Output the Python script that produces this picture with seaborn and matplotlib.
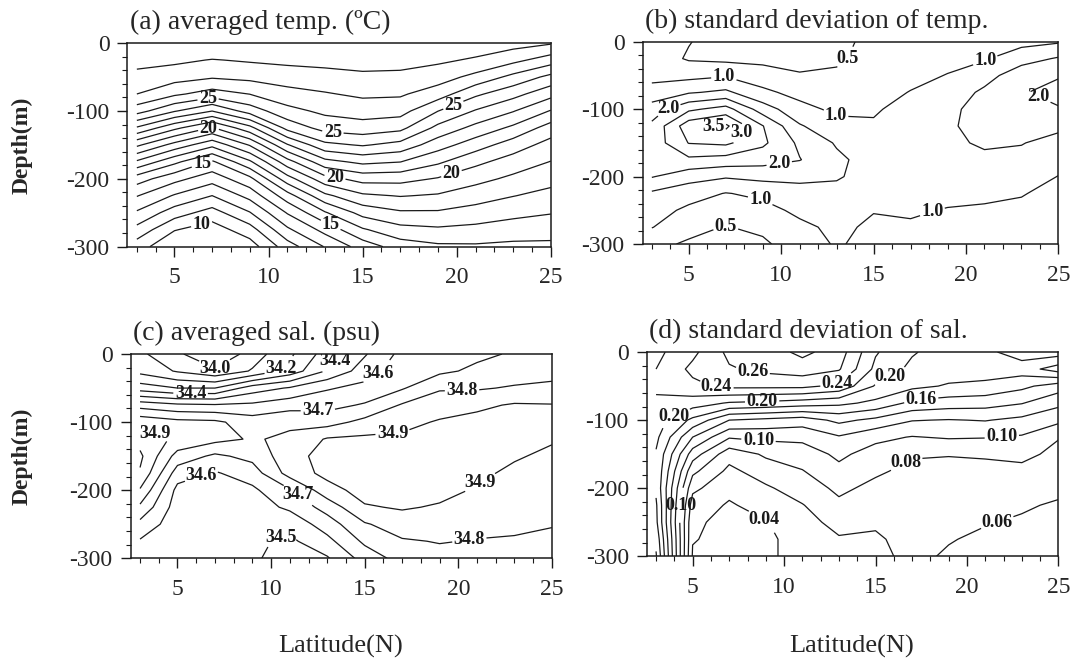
import numpy as np
import matplotlib
matplotlib.use("Agg")
import matplotlib.pyplot as plt
import seaborn as sns

# grid: latitude (N) and depth (m)
lats = [3, 5, 7, 9, 11, 13, 15, 17, 19, 21, 23, 25]
depths = [0, -25, -50, -75, -100, -125, -150, -175, -200, -225, -250, -275, -300]

# (a) averaged temperature, one column per latitude (top to bottom)
temp_mean = [
    [29.0, 28.36, 27.69, 27.0, 25.42, 22.87, 20.21, 17.83, 15.47, 14.05, 12.86, 11.67, 10.48],
    [29.0, 28.22, 27.4, 26.19, 24.09, 21.25, 18.65, 16.25, 14.32, 12.9, 11.48, 10.06, 9.1],
    [29.0, 27.95, 27.11, 25.56, 23.02, 19.9, 17.29, 14.83, 13.41, 11.99, 10.57, 9.5, 8.7],
    [29.0, 28.11, 27.27, 26.02, 24.44, 21.67, 19.09, 16.82, 14.72, 13.33, 11.94, 10.56, 9.5],
    [29.0, 28.24, 27.48, 26.65, 25.69, 24.33, 21.92, 19.6, 17.58, 15.56, 14.08, 12.81, 11.53],
    [29.0, 28.32, 27.63, 26.92, 26.22, 25.37, 23.75, 21.67, 19.63, 17.76, 15.9, 14.34, 13.06],
    [29.0, 28.4, 27.8, 27.18, 26.45, 25.57, 24.1, 22.24, 20.37, 18.82, 17.35, 15.88, 14.44],
    [29.0, 28.38, 27.75, 27.13, 26.38, 25.28, 23.67, 22.02, 20.33, 19.05, 17.86, 16.67, 15.48],
    [28.8, 28.18, 27.45, 26.5, 25.02, 23.72, 22.45, 21.17, 19.92, 18.89, 17.87, 16.84, 15.82],
    [28.6, 27.87, 26.71, 25.19, 23.92, 22.7, 21.47, 20.25, 19.31, 18.45, 17.59, 16.72, 15.86],
    [28.4, 27.28, 25.71, 24.34, 23.06, 21.79, 20.51, 19.55, 18.79, 18.03, 17.27, 16.52, 15.76],
    [28.1, 26.5, 24.72, 23.33, 21.94, 20.56, 19.62, 18.97, 18.33, 17.69, 17.05, 16.41, 15.77],
]

# (b) standard deviation of temperature
temp_std = [
    [0.7, 0.75, 0.88, 1.15, 1.75, 2.1, 2.2, 2.15, 2.03, 1.42, 1.2, 1.02, 0.6],
    [0.52, 0.45, 0.85, 1.45, 2.4, 3.3, 3.02, 2.4, 1.7, 1.2, 0.9, 0.62, 0.45],
    [0.3, 0.38, 0.95, 1.6, 2.7, 3.6, 3.1, 2.3, 1.55, 0.98, 0.8, 0.48, 0.35],
    [0.3, 0.35, 0.75, 1.1, 1.75, 2.52, 2.6, 2.2, 1.65, 1.1, 0.85, 0.6, 0.42],
    [0.25, 0.3, 0.55, 0.85, 1.15, 1.55, 1.9, 2.02, 1.6, 1.35, 1.1, 0.9, 0.75],
    [0.4, 0.45, 0.55, 0.72, 0.9, 1.15, 1.45, 1.6, 1.55, 1.35, 1.2, 1.1, 1.05],
    [0.6, 0.62, 0.7, 0.8, 0.95, 1.05, 1.2, 1.3, 1.3, 1.2, 1.02, 0.92, 0.85],
    [0.65, 0.7, 0.85, 1.02, 1.15, 1.25, 1.3, 1.3, 1.25, 1.15, 1.05, 0.95, 0.9],
    [0.75, 0.85, 1.02, 1.2, 1.35, 1.4, 1.35, 1.3, 1.2, 1.1, 0.98, 0.9, 0.85],
    [0.8, 0.95, 1.3, 1.6, 1.75, 1.75, 1.6, 1.35, 1.2, 1.08, 0.95, 0.88, 0.82],
    [0.85, 1.3, 1.8, 1.95, 1.9, 1.75, 1.52, 1.38, 1.2, 1.02, 0.93, 0.88, 0.82],
    [0.95, 1.55, 1.95, 2.2, 1.95, 1.6, 1.35, 1.15, 0.99, 0.9, 0.85, 0.8, 0.78],
]

# (c) averaged salinity
sal_mean = [
    [34.12, 34.17, 34.35, 34.66, 34.87, 34.96, 35.02, 34.99, 34.89, 34.78, 34.67, 34.59, 34.55],
    [34.02, 34.09, 34.3, 34.62, 34.83, 34.88, 34.76, 34.65, 34.57, 34.55, 34.54, 34.54, 34.54],
    [33.9, 34.02, 34.3, 34.61, 34.82, 34.83, 34.68, 34.59, 34.56, 34.55, 34.55, 34.55, 34.55],
    [34.05, 34.11, 34.45, 34.62, 34.75, 34.79, 34.73, 34.65, 34.58, 34.55, 34.53, 34.52, 34.51],
    [34.18, 34.24, 34.51, 34.66, 34.78, 34.82, 34.86, 34.84, 34.69, 34.62, 34.53, 34.48, 34.47],
    [34.35, 34.41, 34.59, 34.67, 34.76, 34.91, 34.94, 34.93, 34.86, 34.74, 34.65, 34.57, 34.49],
    [34.49, 34.55, 34.63, 34.71, 34.83, 34.92, 34.96, 34.96, 34.94, 34.89, 34.79, 34.72, 34.64],
    [34.63, 34.66, 34.69, 34.81, 34.87, 34.92, 34.96, 34.97, 34.95, 34.91, 34.85, 34.79, 34.74],
    [34.66, 34.68, 34.79, 34.85, 34.91, 34.95, 34.97, 34.96, 34.93, 34.89, 34.85, 34.805, 34.77],
    [34.68, 34.72, 34.79, 34.88, 34.93, 34.96, 34.95, 34.92, 34.89, 34.86, 34.83, 34.795, 34.78],
    [34.71, 34.75, 34.81, 34.91, 34.94, 34.94, 34.91, 34.88, 34.86, 34.84, 34.82, 34.79, 34.77],
    [34.74, 34.77, 34.82, 34.905, 34.93, 34.91, 34.88, 34.86, 34.84, 34.82, 34.805, 34.78, 34.76],
]

# (d) standard deviation of salinity
sal_std = [
    [0.215, 0.22, 0.225, 0.215, 0.21, 0.205, 0.198, 0.197, 0.196, 0.203, 0.205, 0.215, 0.222],
    [0.235, 0.245, 0.235, 0.21, 0.175, 0.14, 0.11, 0.085, 0.065, 0.05, 0.043, 0.041, 0.038],
    [0.265, 0.258, 0.245, 0.198, 0.14, 0.102, 0.068, 0.055, 0.045, 0.038, 0.035, 0.035, 0.036],
    [0.27, 0.265, 0.245, 0.195, 0.135, 0.105, 0.083, 0.07, 0.057, 0.047, 0.039, 0.037, 0.038],
    [0.285, 0.27, 0.245, 0.19, 0.13, 0.105, 0.09, 0.079, 0.07, 0.059, 0.052, 0.046, 0.044],
    [0.27, 0.262, 0.235, 0.185, 0.145, 0.118, 0.104, 0.095, 0.084, 0.076, 0.067, 0.058, 0.055],
    [0.222, 0.215, 0.198, 0.175, 0.135, 0.105, 0.092, 0.083, 0.075, 0.068, 0.062, 0.058, 0.056],
    [0.202, 0.195, 0.185, 0.155, 0.121, 0.099, 0.082, 0.075, 0.071, 0.069, 0.067, 0.065, 0.064],
    [0.19, 0.19, 0.178, 0.15, 0.119, 0.102, 0.081, 0.074, 0.07, 0.067, 0.063, 0.061, 0.058],
    [0.185, 0.19, 0.175, 0.148, 0.121, 0.101, 0.082, 0.075, 0.07, 0.066, 0.061, 0.057, 0.055],
    [0.17, 0.19, 0.165, 0.141, 0.115, 0.098, 0.085, 0.075, 0.068, 0.062, 0.058, 0.055, 0.053],
    [0.17, 0.21, 0.15, 0.125, 0.105, 0.081, 0.075, 0.07, 0.064, 0.058, 0.055, 0.053, 0.052],
]

titles = ["(a) averaged temp. (\u00baC)", "(b) standard deviation of temp.",
          "(c) averaged sal. (psu)", "(d) standard deviation of sal."]

levels_a = list(range(10, 29))
levels_b = [0.5, 1.0, 1.5, 2.0, 2.5, 3.0, 3.5]
levels_c = [float(v) for v in np.round(np.arange(34.0, 35.05, 0.1), 1)]
levels_d = [float(v) for v in np.round(np.arange(0.04, 0.285, 0.02), 2)]

# levels that carry labels
label_levels_a = [10, 15, 20, 25]
label_levels_b = [0.5, 1.0, 2.0, 3.0, 3.5]

# where the contour labels sit (lat, depth)
labels_a = [(6.8, -84), (6.8, -124), (6.4, -172), (6.4, -262), (13.4, -138),
            (13.5, -203), (13.3, -268), (19.8, -90), (19.8, -200)]
labels_b = [(13.9, -32), (6.9, -50), (12.9, -112), (3.9, -100), (6.3, -126),
            (8.1, -140), (9.9, -182), (8.9, -232), (7.0, -274), (18.1, -245),
            (21.0, -25), (24.0, -78)]
labels_c = [(7.0, -21), (10.6, -24), (13.6, -14), (15.6, -22), (20.2, -52),
            (5.7, -58), (12.5, -94), (3.9, -108), (16.5, -118), (21.3, -195),
            (6.35, -185), (11.5, -205), (10.5, -266), (20.6, -275)]
labels_d = [(8.3, -26), (6.3, -51), (12.9, -44), (8.8, -72), (15.8, -36),
            (4.0, -95), (8.6, -130), (17.5, -72), (21.9, -122), (16.6, -158),
            (21.7, -254), (4.35, -225), (8.9, -246)]

sns.set_theme(style="ticks")
plt.rcParams["font.family"] = ["Liberation Serif", "DejaVu Serif"]
plt.rcParams["axes.unicode_minus"] = False

fig = plt.figure(figsize=(10.8, 6.63), dpi=100)
rects = [[0.118, 0.628, 0.392, 0.307], [0.595, 0.632, 0.385, 0.305],
         [0.121, 0.158, 0.390, 0.308], [0.599, 0.161, 0.381, 0.308]]
fields = [temp_mean, temp_std, sal_mean, sal_std]
all_levels = [levels_a, levels_b, levels_c, levels_d]
lab_levels = [label_levels_a, label_levels_b, levels_c, levels_d]
label_pos = [labels_a, labels_b, labels_c, labels_d]
fmts = ["%.0f", "%.1f", "%.1f", "%.2f"]

X, Y = np.meshgrid(lats, depths)
for i in range(4):
    ax = fig.add_axes(rects[i])
    Z = np.array(fields[i]).T
    plain = [v for v in all_levels[i] if v not in lab_levels[i]]
    if plain:
        ax.contour(X, Y, Z, levels=plain, colors="k", linewidths=0.9)
    cs = ax.contour(X, Y, Z, levels=lab_levels[i], colors="k", linewidths=0.9)
    texts = ax.clabel(cs, manual=label_pos[i], inline=True,
                      inline_spacing=2, fmt=fmts[i], fontsize=13)
    for t in texts:
        t.set_fontweight("bold")
        t.set_rotation(0)
    ax.set_xlim(2.5, 25)
    ax.set_ylim(-300, 0)
    ax.set_xticks([5, 10, 15, 20, 25])
    ax.set_xticks(np.arange(3, 26, 1), minor=True)
    ax.set_yticks([0, -100, -200, -300])
    ax.set_yticklabels(["0", "-100", "-200", "-300"])
    ax.set_yticks(np.arange(-300, 1, 20), minor=True)
    ax.tick_params(which="major", length=7, width=1.0, direction="out", labelsize=17, color="k")
    ax.tick_params(axis="x", which="major", pad=8)
    ax.tick_params(axis="y", which="major", pad=6)
    ax.tick_params(which="minor", length=3.5, width=0.8, direction="out", color="k")
    for s in ax.spines.values():
        s.set_linewidth(1.1)
        s.set_color("k")
    ax.text(0.005, 1.07, titles[i], transform=ax.transAxes, ha="left", va="baseline", fontsize=20)

fig.text(22 / 1080, 0.781, "Depth(m)", rotation=90, ha="center", va="center",
         fontsize=17, fontweight="bold")
fig.text(22 / 1080, 0.312, "Depth(m)", rotation=90, ha="center", va="center",
         fontsize=17, fontweight="bold")
fig.text(341 / 1080, 0.025, "Latitude(N)", ha="center", va="center", fontsize=19)
fig.text(852 / 1080, 0.025, "Latitude(N)", ha="center", va="center", fontsize=19)

fig.savefig("out.png", dpi=100, facecolor="white")
